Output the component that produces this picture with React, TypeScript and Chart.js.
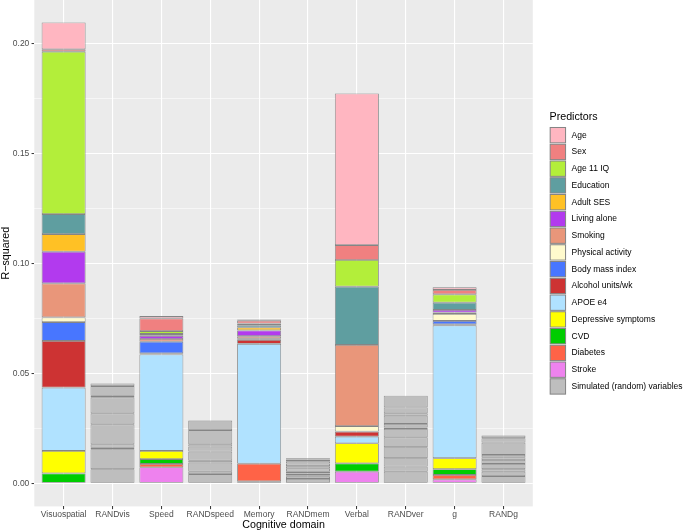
import React, { useEffect, useRef } from 'react';
import { Chart, registerables } from 'chart.js';

Chart.register(...registerables);

// ---------- data ----------
const categories = ['Visuospatial', 'RANDvis', 'Speed', 'RANDspeed', 'Memory', 'RANDmem', 'Verbal', 'RANDver', 'g', 'RANDg'];
// positions of the real domains and of their random counterparts in `categories`
const domainIndex = [0, 2, 4, 6, 8]; // Visuospatial, Speed, Memory, Verbal, g
const randIndex = [1, 3, 5, 7, 9]; // RANDvis, RANDspeed, RANDmem, RANDver, RANDg

const predictorNames = ['Age', 'Sex', 'Age 11 IQ', 'Education', 'Adult SES', 'Living alone', 'Smoking', 'Physical activity', 'Body mass index', 'Alcohol units/wk', 'APOE e4', 'Depressive symptoms', 'CVD', 'Diabetes', 'Stroke'];
const predictorColors = ['#FFB6C1', '#F08080', '#B3EE3A', '#5F9EA0', '#FFC125', '#B23AEE', '#E9967A', '#FFFACD', '#4876FF', '#CD3333', '#B0E2FF', '#FFFF00', '#00CD00', '#FF6347', '#EE82EE'];
const simulatedName = 'Simulated (random) variables';
const simulatedColor = '#BEBEBE';
const legendTitle = 'Predictors';

// R-squared contributions, for [Visuospatial, Speed, Memory, Verbal, g]
const age = [0.0122, 0.0010, 0.0006, 0.0689, 0.0012];
const sex = [0.0011, 0.0058, 0.0013, 0.0068, 0.0020];
const age11IQ = [0.0738, 0.0013, 0.0007, 0.0121, 0.0038];
const education = [0.0091, 0.0006, 0.0010, 0.0265, 0.0033];
const adultSES = [0.0080, 0.0003, 0.0014, 0, 0];
const livingAlone = [0.0144, 0.0014, 0.0026, 0, 0.0012];
const smoking = [0.0155, 0.0012, 0.0010, 0.0369, 0.0006];
const physicalActivity = [0.0021, 0, 0.0003, 0.0025, 0.0032];
const bodyMassIndex = [0.0086, 0.0053, 0.0004, 0, 0.0015];
const alcohol = [0.0212, 0.0005, 0.0018, 0.0023, 0.0005];
const apoe = [0.0288, 0.0439, 0.0545, 0.0030, 0.0604];
const depressive = [0.0102, 0.0037, 0, 0.0091, 0.0050];
const cvd = [0.0045, 0.0022, 0, 0.0038, 0.0026];
const diabetes = [0, 0.0015, 0.0080, 0, 0.0020];
const stroke = [0, 0.0073, 0.0009, 0.0053, 0.0018];
const predictorValues = [age, sex, age11IQ, education, adultSES, livingAlone, smoking, physicalActivity, bodyMassIndex, alcohol, apoe, depressive, cvd, diabetes, stroke];

// simulated (random) variables, bottom to top
const randVis = [0.0064, 0.0091, 0.0007, 0.0015, 0.0091, 0.0050, 0.0073, 0.0007, 0.0044, 0.0012];
const randSpeed = [0.0042, 0.0011, 0.0041, 0.0009, 0.0041, 0.0023, 0.0010, 0.0065, 0.0043];
const randMem = [0.0020, 0.0010, 0.0007, 0.0008, 0.0008, 0.0015, 0.0010, 0.0012, 0.0010, 0.0008, 0.0006];
const randVer = [0.0053, 0.0023, 0.0038, 0.0050, 0.0045, 0.0038, 0.0007, 0.0016, 0.0037, 0.0011, 0.0027, 0.0053];
const randG = [0.0033, 0.0020, 0.0011, 0.0024, 0.0018, 0.0012, 0.0011, 0.0056, 0.0020, 0.0012];
const randomSets = [randVis, randSpeed, randMem, randVer, randG];

const yMajorTicks = [0, 0.05, 0.1, 0.15, 0.2];
const yMinorTicks = [0.025, 0.075, 0.125, 0.175];

// ---------- styling ----------
const FONT = '"Liberation Sans", Arial, Helvetica, sans-serif';
const BORDER = '#858585';
const TICK_SIZE = 8.5;
const TITLE_SIZE = 10.7;

const isMajor = (v: number) => yMajorTicks.some((m) => Math.abs(m - v) < 1e-9);

const backgroundPlugin = {
  id: 'panelBg',
  beforeDraw(chart: any) {
    const { ctx, chartArea } = chart;
    ctx.save();
    ctx.fillStyle = '#EBEBEB';
    ctx.fillRect(chartArea.left, chartArea.top, chartArea.right - chartArea.left, chartArea.bottom - chartArea.top);
    ctx.restore();
  },
};

const legendPlugin = {
  id: 'ggLegend',
  afterDraw(chart: any) {
    const { ctx, chartArea } = chart;
    const x0 = chartArea.right + 16.7;
    const key = 16.75;
    const top = 126.8;
    ctx.save();
    ctx.textBaseline = 'middle';
    ctx.textAlign = 'left';
    ctx.fillStyle = '#000';
    ctx.font = `${TITLE_SIZE}px ${FONT}`;
    ctx.fillText(legendTitle, x0, top - 9.6);
    const items = predictorNames.map((n, i) => ({ n, c: predictorColors[i] }));
    items.push({ n: simulatedName, c: simulatedColor });
    ctx.font = `${TICK_SIZE}px ${FONT}`;
    items.forEach((it, i) => {
      const y = top + i * key;
      ctx.fillStyle = '#F2F2F2';
      ctx.fillRect(x0, y, key, key);
      ctx.fillStyle = it.c;
      ctx.fillRect(x0 + 0.7, y + 0.7, key - 1.4, key - 1.4);
      ctx.strokeStyle = BORDER;
      ctx.lineWidth = 1;
      ctx.strokeRect(x0 + 0.7, y + 0.7, key - 1.4, key - 1.4);
      ctx.fillStyle = '#000';
      ctx.fillText(it.n, x0 + key + 5.3, y + key / 2);
    });
    ctx.restore();
  },
};

function buildDatasets() {
  const ds: any[] = [];
  const common = {
    borderColor: BORDER,
    borderWidth: 0.85,
    borderSkipped: false,
    categoryPercentage: 0.9,
    barPercentage: 1,
  };
  for (let p = predictorNames.length - 1; p >= 0; p--) {
    const data: (number | null)[] = categories.map(() => null);
    domainIndex.forEach((ci, k) => {
      const v = predictorValues[p][k];
      data[ci] = v > 0 ? v : null;
    });
    ds.push({ ...common, label: predictorNames[p], data, backgroundColor: predictorColors[p] });
  }
  const nRand = Math.max(...randomSets.map((s) => s.length));
  for (let r = 0; r < nRand; r++) {
    const data: (number | null)[] = categories.map(() => null);
    randIndex.forEach((ci, k) => {
      const v = randomSets[k][r];
      data[ci] = v ? v : null;
    });
    ds.push({ ...common, label: simulatedName, data, backgroundColor: simulatedColor });
  }
  return ds;
}

export default function App() {
  const ref = useRef<HTMLCanvasElement | null>(null);
  useEffect(() => {
    if (!ref.current) return;
    const chart = new Chart(ref.current, {
      type: 'bar',
      data: { labels: categories.map((_, i) => i), datasets: buildDatasets() },
      plugins: [backgroundPlugin, legendPlugin],
      options: {
        responsive: false,
        animation: false,
        devicePixelRatio: 1,
        layout: { padding: { left: 0, right: 152.2, top: 0, bottom: 0 } },
        plugins: { legend: { display: false }, tooltip: { enabled: false } },
        scales: {
          x: {
            type: 'linear',
            stacked: true,
            min: -0.6,
            max: 9.6,
            offset: false,
            afterBuildTicks: (s: any) => {
              s.ticks = categories.map((_, i) => ({ value: i }));
            },
            afterFit: (s: any) => {
              s.height = 25.6;
              s.paddingLeft = 0;
              s.paddingRight = 0;
            },
            ticks: {
              autoSkip: false,
              maxRotation: 0,
              minRotation: 0,
              padding: 0.6,
              color: '#4D4D4D',
              font: { family: FONT, size: TICK_SIZE },
              callback: (v: any) => categories[Math.round(Number(v))] ?? '',
            },
            grid: { offset: false, color: '#FFFFFF', lineWidth: 1.1, tickColor: '#333333', tickLength: 2.75, tickWidth: 1 },
            border: { display: false },
            title: { display: true, text: 'Cognitive domain', color: '#000', font: { family: FONT, size: TITLE_SIZE }, padding: { top: 0, bottom: 0.6 } },
          },
          y: {
            type: 'linear',
            stacked: true,
            min: -0.0105,
            max: 0.2197,
            afterBuildTicks: (s: any) => {
              s.ticks = [...yMajorTicks, ...yMinorTicks].sort((a, b) => a - b).map((v) => ({ value: v }));
            },
            afterFit: (s: any) => {
              s.width = 34.3;
              s.paddingTop = 0;
              s.paddingBottom = 0;
            },
            ticks: {
              padding: 2.2,
              color: '#4D4D4D',
              font: { family: FONT, size: TICK_SIZE },
              callback: (v: any) => (isMajor(Number(v)) ? Number(v).toFixed(2) : ''),
            },
            grid: {
              color: '#FFFFFF',
              lineWidth: (c: any) => (c.tick && !isMajor(c.tick.value) ? 0.55 : 1.1),
              tickColor: (c: any) => (c.tick && !isMajor(c.tick.value) ? 'rgba(0,0,0,0)' : '#333333'),
              tickLength: 2.75,
              tickWidth: 1,
            },
            border: { display: false },
            title: { display: true, text: 'R\u2212squared', color: '#000', font: { family: FONT, size: TITLE_SIZE }, padding: 0 },
          },
        },
      } as any,
    });
    return () => chart.destroy();
  }, []);

  return (
    <div style={{ position: 'absolute', left: 0, top: 0, width: 685, height: 532, background: '#fff' }}>
      <canvas ref={ref} width={685} height={532} style={{ display: 'block' }} />
    </div>
  );
}
